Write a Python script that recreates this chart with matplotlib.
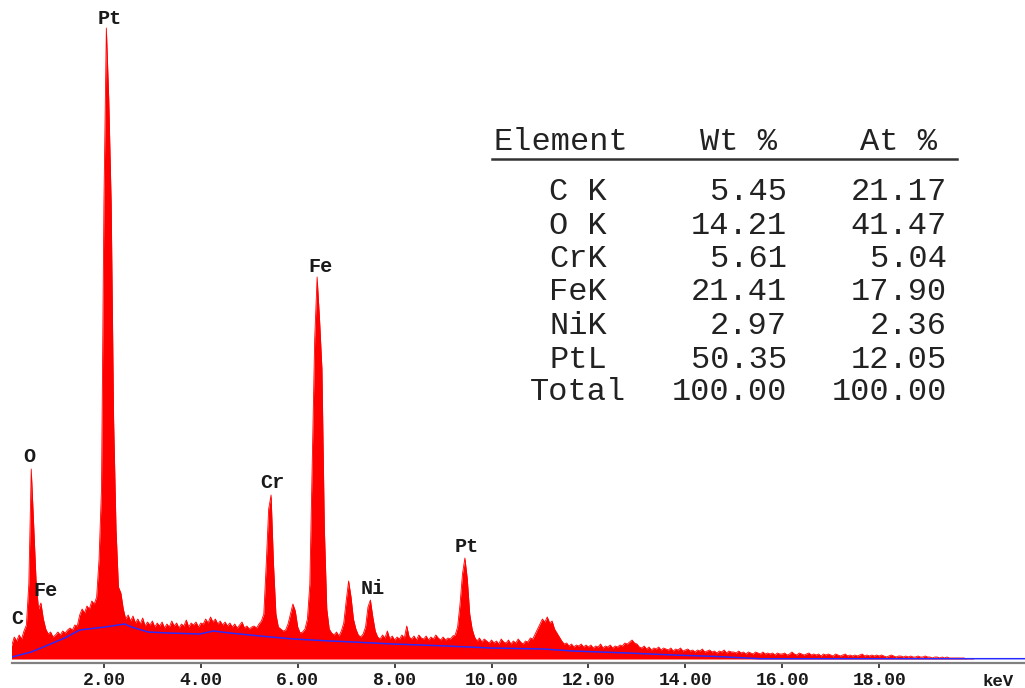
import numpy as np
import matplotlib
matplotlib.use("Agg")
import matplotlib.pyplot as plt

# ---------------- data ----------------
# spectrum channels: 0.05 keV wide, starting at 0.00 keV (400 channels)
channel_width_kev = 0.05
counts = [
    # 0.00 - 0.95 keV
    12, 12, 14, 22, 18, 24, 20, 28, 34, 75, 190, 135, 78, 50, 56, 40, 30, 25, 27, 22,
    # 1.00 - 1.95
    24, 27, 24, 28, 26, 29, 31, 29, 34, 33, 44, 50, 46, 53, 50, 58, 55, 62, 100, 170,
    # 2.00 - 2.95
    456, 631, 560, 456, 240, 130, 72, 66, 50, 40, 44, 38, 43, 36, 40, 35, 41, 33, 37, 34,
    # 3.00 - 3.95
    38, 32, 36, 33, 37, 31, 35, 32, 38, 33, 36, 31, 35, 33, 39, 32, 36, 34, 37, 32,
    # 4.00 - 4.95
    36, 35, 40, 36, 42, 37, 40, 35, 38, 34, 37, 33, 36, 32, 35, 31, 34, 37, 31, 33,
    # 5.00 - 5.95
    30, 32, 33, 31, 35, 38, 45, 95, 150, 164, 95, 45, 32, 30, 28, 29, 35, 45, 55, 48,
    # 6.00 - 6.95
    32, 26, 27, 30, 40, 75, 200, 320, 382, 340, 290, 130, 50, 30, 26, 24, 27, 23, 28, 36,
    # 7.00 - 7.95
    58, 78, 62, 40, 30, 24, 22, 25, 32, 52, 59, 42, 28, 22, 20, 24, 21, 28, 20, 23,
    # 8.00 - 8.95
    19, 22, 20, 24, 21, 33, 22, 20, 23, 19, 24, 21, 20, 23, 19, 22, 20, 24, 21, 19,
    # 9.00 - 9.95
    22, 19, 21, 20, 23, 24, 32, 55, 85, 101, 80, 45, 30, 22, 18, 21, 17, 20, 18, 16,
    # 10.00 - 10.95
    19, 16, 18, 15, 20, 17, 16, 19, 15, 18, 16, 20, 17, 15, 18, 17, 21, 20, 25, 30,
    # 11.00 - 11.95
    35, 40, 37, 42, 36, 38, 30, 26, 22, 18, 15, 16, 13, 15, 12, 14, 13, 15, 12, 14,
    # 12.00 - 12.95
    12, 14, 11, 13, 12, 15, 11, 13, 12, 14, 11, 13, 12, 14, 13, 16, 15, 17, 19, 16,
    # 13.00 - 13.95
    15, 12, 11, 13, 10, 12, 9, 11, 10, 12, 9, 11, 10, 9, 11, 8, 10, 9, 11, 8,
    # 14.00 - 14.95
    9, 10, 8, 9, 7, 9, 8, 10, 7, 8, 9, 7, 8, 6, 8, 7, 9, 6, 8, 7,
    # 15.00 - 15.95
    7, 6, 8, 6, 7, 5, 7, 6, 5, 7, 6, 5, 7, 5, 6, 5, 6, 4, 6, 5,
    # 16.00 - 16.95
    5, 6, 4, 5, 7, 5, 4, 6, 5, 4, 5, 6, 4, 5, 4, 5, 3, 5, 4, 5,
    # 17.00 - 17.95
    4, 3, 5, 4, 3, 4, 5, 3, 4, 3, 4, 3, 4, 5, 3, 4, 3, 4, 3, 4,
    # 18.00 - 18.95
    3, 4, 3, 2, 3, 4, 3, 2, 3, 3, 2, 3, 2, 3, 2, 2, 3, 2, 2, 3,
    # 19.00 - 19.95
    2, 2, 1, 2, 2, 1, 2, 1, 2, 1, 1, 1, 1, 1, 1, 1, 0, 0, 0, 0,
]
energy_kev = np.arange(len(counts)) * channel_width_kev

# fitted background (blue line)
bg_kev = [0.10, 0.50, 0.85, 1.19, 1.50, 2.02, 2.43, 2.57, 2.91, 3.32, 3.98, 4.26,
          4.60, 5.22, 5.91, 6.67, 7.15, 7.97, 9.08, 9.97, 11.06, 11.68, 12.80,
          13.75, 14.65, 15.54, 21.0]
bg_counts = [2, 7, 14, 21, 29, 32, 35, 32, 27, 26, 25, 28, 26, 23, 20, 18, 17, 15,
             13, 11, 10, 8, 6, 4, 2.5, 0.3, 0.3]

tick_values = [2, 4, 6, 8, 10, 12, 14, 16, 18]
tick_labels = ["2.00", "4.00", "6.00", "8.00", "10.00", "12.00", "14.00", "16.00", "18.00"]

peak_labels = ["Pt", "Fe", "O", "Cr", "Ni", "Pt", "Fe", "C"]

table_elements = ["C K", "O K", "CrK", "FeK", "NiK", "PtL", "Total"]
table_wt = ["5.45", "14.21", "5.61", "21.41", "2.97", "50.35", "100.00"]
table_at = ["21.17", "41.47", "5.04", "17.90", "2.36", "12.05", "100.00"]

# ---------------- figure ----------------
W, H = 1025, 688
fig = plt.figure(figsize=(W / 100, H / 100), dpi=100)
ax = fig.add_axes([12 / W, (H - 663) / H, (W - 12) / W, 663 / H])
ax.set_xlim(0.103, 21.01)
ax.set_ylim(-4, 659)

ax.fill_between(energy_kev, 0, counts, color="#ff0000", lw=0)
ax.plot(energy_kev, counts, color="#ff0000", lw=0.6)
ax.plot(bg_kev, bg_counts, color="#2a2aff", lw=1.1)

for s in ["top", "right", "left"]:
    ax.spines[s].set_visible(False)
ax.spines["bottom"].set_position(("data", -4))
ax.spines["bottom"].set_color("#808080")
ax.spines["bottom"].set_linewidth(1.6)
ax.set_yticks([])
ax.set_xticks(tick_values)
ax.set_xticklabels(tick_labels)
ax.tick_params(axis="x", direction="out", length=3.6, width=1.3, color="#333333",
               pad=3.0, labelsize=13, labelcolor="#1a1a1a")
for lab in ax.get_xticklabels():
    lab.set_fontfamily("Liberation Mono")
    lab.set_fontweight("bold")

# peak labels (data coordinates of the label centre)
label_pos = [(2.13, 641), (6.48, 392), (0.47, 202), (5.48, 176), (7.55, 71),
             (9.49, 113), (0.80, 68), (0.22, 41)]
for txt, (x, y) in zip(peak_labels, label_pos):
    ax.text(x, y, txt, ha="center", va="center", fontsize=14.5, fontweight="bold",
            family="Liberation Mono", color="#1a1a1a", clip_on=False)

fig.text(982 / W, 1 - 682 / H, "keV", ha="left", va="center", fontsize=12.5,
         fontweight="bold", family="Liberation Mono", color="#1a1a1a")

# composition table
tfs = 23
tcol = "#222222"
def fx(px):
    return px / W
def fy(py):
    return 1 - py / H

fig.text(fx(494), fy(142), "Element", ha="left", va="center", fontsize=tfs,
         family="Liberation Mono", color=tcol)
fig.text(fx(777), fy(142), "Wt %", ha="right", va="center", fontsize=tfs,
         family="Liberation Mono", color=tcol)
fig.text(fx(937), fy(142), "At %", ha="right", va="center", fontsize=tfs,
         family="Liberation Mono", color=tcol)
fig.add_artist(plt.Line2D([fx(492), fx(957)], [fy(158.5), fy(158.5)],
                          color="#333333", lw=1.8, transform=fig.transFigure))
row_y = [192, 225.5, 259, 292.5, 326, 359.5, 392]
for name, wt, at, y in zip(table_elements, table_wt, table_at, row_y):
    fig.text(fx(578), fy(y), name, ha="center", va="center", fontsize=tfs,
             family="Liberation Mono", color=tcol)
    fig.text(fx(787), fy(y), wt, ha="right", va="center", fontsize=tfs,
             family="Liberation Mono", color=tcol)
    fig.text(fx(947), fy(y), at, ha="right", va="center", fontsize=tfs,
             family="Liberation Mono", color=tcol)

fig.savefig("out.png", dpi=100)
